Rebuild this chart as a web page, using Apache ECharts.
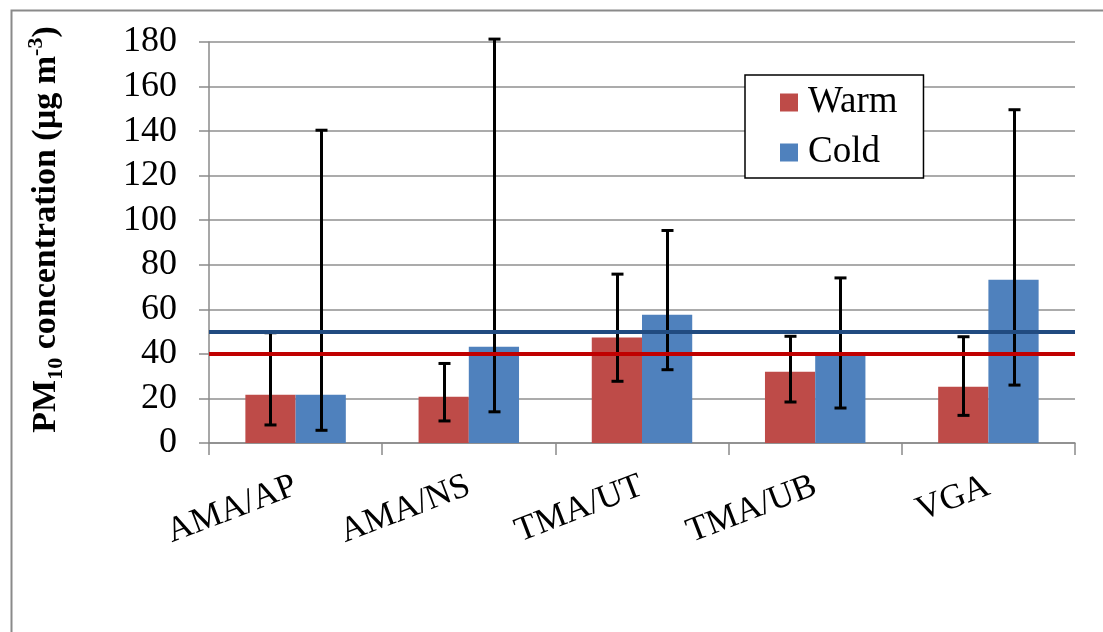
<!DOCTYPE html>
<html>
<head>
<meta charset="utf-8">
<script src="https://cdn.jsdelivr.net/npm/echarts@6/dist/echarts.min.js"></script>
<style>html,body{margin:0;padding:0;background:#fff}#c{width:1103px;height:632px}</style>
</head>
<body>
<div id="c"></div>
<script>
const categories = ['AMA/AP', 'AMA/NS', 'TMA/UT', 'TMA/UB', 'VGA'];
const warm = [21.7, 20.8, 47.4, 32.0, 25.3];
const cold = [21.7, 43.2, 57.6, 39.5, 73.3];
const warmLow = [8.1, 9.9, 27.7, 18.4, 12.4];
const warmHigh = [49.5, 35.7, 75.8, 47.9, 47.7];
const coldLow = [5.7, 14.0, 32.9, 15.7, 26.0];
const coldHigh = [140.4, 181.3, 95.4, 74.1, 149.6];
const limitCold = 50;
const limitWarm = 40;
const yTicks = { min: 0, max: 180, interval: 20 };

const FONT = 'Liberation Serif';
const CAT_GAP = 0.42;

function errSeries(name, low, high, sign) {
  return {
    type: 'custom',
    name: name,
    z: 5,
    data: low.map((l, i) => [i, l, high[i]]),
    encode: { x: 0, y: [1, 2] },
    renderItem: function (params, api) {
      const i = api.value(0);
      const lo = api.coord([i, api.value(1)]);
      const hi = api.coord([i, api.value(2)]);
      const cw = api.size([1, 0])[0];
      const bw = cw * (1 - CAT_GAP) / 2;
      const x = Math.round(lo[0] + sign * bw / 2) + 0.5;
      const cap = 6;
      const st = { stroke: '#000', lineWidth: 3 };
      return {
        type: 'group',
        children: [
          { type: 'line', shape: { x1: x, y1: lo[1], x2: x, y2: hi[1] }, style: st },
          { type: 'line', shape: { x1: x - cap, y1: lo[1], x2: x + cap, y2: lo[1] }, style: st },
          { type: 'line', shape: { x1: x - cap, y1: hi[1], x2: x + cap, y2: hi[1] }, style: st }
        ]
      };
    }
  };
}

const chart = echarts.init(document.getElementById('c'), null, { renderer: 'canvas' });
chart.setOption({
  animation: false,
  backgroundColor: '#fff',
  textStyle: { fontFamily: FONT },
  graphic: [{
    type: 'rect', left: 9, top: 8, z: -10,
    shape: { x: 0, y: 0, width: 1110, height: 640 },
    style: { fill: 'none', stroke: '#8a8a8a', lineWidth: 2 }
  }],
  grid: { left: 209, right: 28, top: 42, bottom: 189 },
  legend: {
    data: ['Warm', 'Cold'],
    orient: 'vertical',
    left: 745, top: 75,
    itemWidth: 18, itemHeight: 18,
    itemGap: 13,
    padding: [9, 26, 7, 35],
    borderColor: '#000', borderWidth: 1.5,
    backgroundColor: '#fff',
    icon: 'rect',
    textStyle: { fontFamily: FONT, fontSize: 37, color: '#000', padding: [0, 0, 0, 5] }
  },
  xAxis: {
    type: 'category',
    data: categories,
    axisLine: { lineStyle: { color: '#8a8a8a', width: 1.5 } },
    axisTick: { show: true, length: 12, lineStyle: { color: '#8a8a8a', width: 1.5 } },
    axisLabel: { rotate: 21, margin: 42, fontFamily: FONT, fontSize: 35, color: '#000', interval: 0 }
  },
  yAxis: {
    type: 'value',
    min: yTicks.min, max: yTicks.max, interval: yTicks.interval,
    axisLine: { show: true, lineStyle: { color: '#8a8a8a', width: 1.5 } },
    axisTick: { show: true, length: 10, lineStyle: { color: '#8a8a8a', width: 1.5 } },
    splitLine: { lineStyle: { color: '#8f8f8f', width: 1.5 } },
    axisLabel: { margin: 32, fontFamily: FONT, fontSize: 36, color: '#000' },
    name: '{b|PM}{sub|10}{b| concentration (µg m}{sup|-3}{b|)}',
    nameLocation: 'middle',
    nameRotate: 90,
    nameGap: 142,
    nameTextStyle: {
      fontFamily: FONT, color: '#000',
      padding: [0, 0, 0, 26],
      rich: {
        b: { fontFamily: FONT, fontWeight: 'bold', fontSize: 34, lineHeight: 42, color: '#000' },
        sub: { fontFamily: FONT, fontWeight: 'bold', fontSize: 22, lineHeight: 22, verticalAlign: 'bottom', color: '#000' },
        sup: { fontFamily: FONT, fontWeight: 'bold', fontSize: 22, lineHeight: 22, verticalAlign: 'top', color: '#000' }
      }
    }
  },
  series: [
    { type: 'bar', name: 'Warm', data: warm, itemStyle: { color: '#BE4B48' }, barGap: '0%', barCategoryGap: (CAT_GAP * 100) + '%', z: 2 },
    { type: 'bar', name: 'Cold', data: cold, itemStyle: { color: '#4F81BD' }, barGap: '0%', barCategoryGap: (CAT_GAP * 100) + '%', z: 2 },
    errSeries('Warm range', warmLow, warmHigh, -1),
    errSeries('Cold range', coldLow, coldHigh, 1),
    {
      type: 'line', name: 'Limits', data: [], z: 10,
      markLine: {
        silent: true, symbol: 'none', z: 10,
        label: { show: false },
        data: [
          { yAxis: limitCold, lineStyle: { color: '#214B80', width: 4, type: 'solid' } },
          { yAxis: limitWarm, lineStyle: { color: '#C00000', width: 4, type: 'solid' } }
        ]
      }
    }
  ]
});
</script>
</body>
</html>
